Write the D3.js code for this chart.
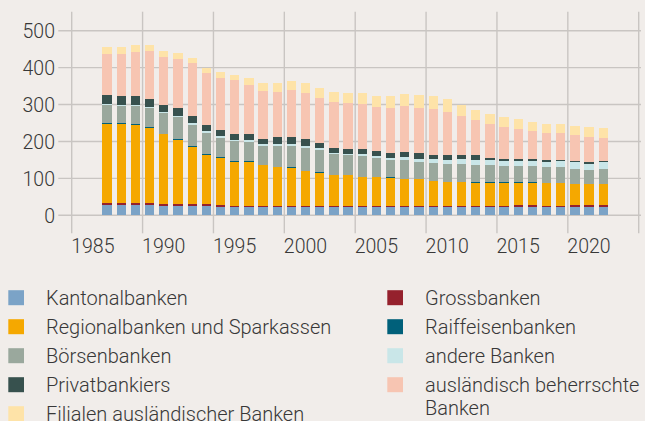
<!DOCTYPE html>
<html>
<head>
<meta charset="utf-8">
<script src="https://cdn.jsdelivr.net/npm/d3@7"></script>
<style>
  html, body { margin: 0; padding: 0; background: #f1edea; }
  svg { display: block; }
  text { font-family: Roboto, "Noto Sans", sans-serif; font-weight: 300; fill: #383838; }
</style>
</head>
<body>
<svg id="chart" width="645" height="421"></svg>
<script>
const years = d3.range(1987, 2023);
const kantonal = [28,28,28,28,26,26,26,26,23,23, 23,23,23,23,23,23,23,23,23,23, 23,23,23,23,23,23,23,23,23,23, 23,23,23,23,23,23];
const gross = [6,6,6,4,5,5,5,5,5,3, 3,3,3,3,3,3,3,3,3,3, 3,3,3,3,3,3,3,3,3,6, 6,3,3,6,6,6];
const regional = [214,214,211,205,189,174,155,133,128,119, 119,109,105,103,94,89,83,83,78,78, 76,72,71,67,64,64,62,62,62,59, 59,61,61,56,56,56];
const raiffeisen = [1,1,1,1,1,1,1,1,1,1, 1,1,1,1,1,1,1,1,1,1, 1,1,1,1,1,1,1,1,1,1, 1,1,1,1,1,1];
const boersen = [50,47,49,53,56,59,58,59,53,55, 52,52,57,59,61,62,57,53,56,51, 47,50,47,48,48,48,48,48,45,45, 45,42,42,40,37,40];
const andere = [3,3,4,3,3,3,4,4,4,4, 5,6,4,5,5,4,3,4,4,5, 5,8,8,11,11,14,14,14,14,14, 14,14,16,19,16,19];
const privat = [24,24,24,22,20,22,19,16,16,16, 16,13,19,18,19,14,13,13,15,14, 14,14,16,11,14,11,11,5,5,5, 5,6,3,3,5,3];
const auslaendisch = [112,115,118,128,130,133,144,142,142,145, 133,130,123,127,126,123,125,125,122,119, 122,125,122,125,117,106,95,92,87,81, 76,73,73,70,68,62];
const filialen = [18,18,19,17,15,16,13,14,16,15, 19,22,22,24,26,26,27,27,30,30, 33,33,35,33,33,30,27,27,27,27, 24,24,24,24,27,27];

const seriesNames = ["Kantonalbanken","Grossbanken","Regionalbanken und Sparkassen","Raiffeisenbanken","Börsenbanken","andere Banken","Privatbankiers","ausländisch beherrschte Banken","Filialen ausländischer Banken"];
const seriesValues = [kantonal, gross, regional, raiffeisen, boersen, andere, privat, auslaendisch, filialen];
const colors = ["#7ba3c7","#95212d","#f5a800","#00607a","#9aa89d","#c9e6e8","#37514e","#f7c5b2","#fee3a8"];
const xTicks = [1985,1990,1995,2000,2005,2010,2015,2020];
const xGrid = [1985,1990,1995,2000,2005,2010,2015,2020,2025];
const yTicks = [0,100,200,300,400,500];

const svg = d3.select("#chart");

const x = d3.scaleLinear().domain([1985, 2025]).range([71.7, 638.7]);
const y = d3.scaleLinear().domain([0, 500]).range([215.3, 30.7]);

const table = years.map((yr, i) => {
  const o = { year: yr };
  seriesNames.forEach((n, k) => { o[n] = seriesValues[k][i]; });
  return o;
});
const stacked = d3.stack().keys(seriesNames)(table);

// grid
const grid = svg.append("g").attr("stroke", "#c9c5c2").attr("stroke-width", 1.4);
grid.selectAll("line.h").data(yTicks).join("line")
  .attr("x1", 58.3).attr("x2", 641)
  .attr("y1", d => y(d)).attr("y2", d => y(d));
grid.selectAll("line.v").data(xGrid).join("line")
  .attr("x1", d => x(d)).attr("x2", d => x(d))
  .attr("y1", 11.7).attr("y2", 233.3);

// y labels
svg.append("g").selectAll("text").data(yTicks).join("text")
  .attr("x", 55).attr("y", d => y(d) + 7.4)
  .attr("text-anchor", "end")
  .style("font-size", "19.5px")
  .text(d => d);

// x labels
svg.append("g").selectAll("text").data(xTicks).join("text")
  .attr("x", d => x(d) - 0.5).attr("y", 252.7)
  .attr("text-anchor", "start")
  .style("font-size", "19.5px")
  .text(d => d);

// bars
const bw = 9.3;
svg.append("g").selectAll("g").data(stacked).join("g")
  .attr("fill", (d, i) => colors[i])
  .selectAll("rect").data(d => d).join("rect")
  .attr("shape-rendering", "crispEdges")
  .attr("x", d => x(d.data.year + 0.5) - bw / 2)
  .attr("width", bw)
  .attr("y", d => y(d[1]))
  .attr("height", d => Math.max(0, y(d[0]) - y(d[1])));

// legend
const leg = svg.append("g");
seriesNames.forEach((name, i) => {
  const col = i % 2;
  const row = Math.floor(i / 2);
  const sx = col === 0 ? 8.3 : 387.3;
  const tx = col === 0 ? 46 : 425;
  const base = 304.7 + row * 29;
  leg.append("rect")
    .attr("x", sx).attr("y", base - 14.5)
    .attr("width", 15.7).attr("height", 15)
    .attr("fill", colors[i]);
  if (name === "ausländisch beherrschte Banken") {
    const t = leg.append("text").attr("x", tx).attr("y", base).style("font-size", "20px");
    t.append("tspan").attr("x", tx).text("ausländisch beherrschte");
    t.append("tspan").attr("x", tx).attr("dy", 23.4).text("Banken");
  } else {
    leg.append("text").attr("x", tx).attr("y", base).style("font-size", "20px").text(name);
  }
});
</script>
</body>
</html>
